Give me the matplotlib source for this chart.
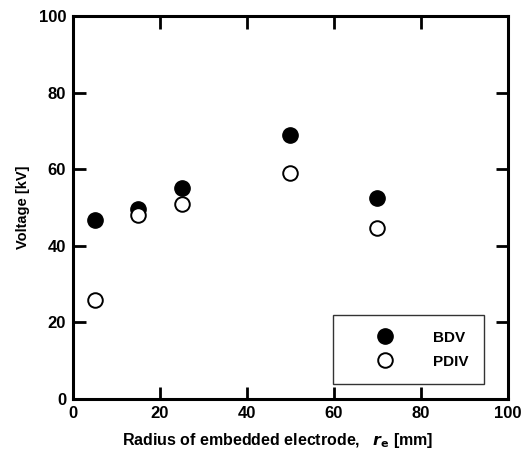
import matplotlib.pyplot as plt

# radius of embedded electrode [mm]
radius = [5, 15, 25, 50, 70]
bdv = [46.7, 49.5, 55.1, 68.9, 52.6]
pdiv = [25.7, 48.1, 50.9, 59.1, 44.7]

x_ticks = [0, 20, 40, 60, 80, 100]
y_ticks = [0, 20, 40, 60, 80, 100]

plt.rcParams["font.family"] = ["Liberation Sans", "DejaVu Sans"]
plt.rcParams["font.weight"] = "bold"

fig = plt.figure(figsize=(5.22, 4.59), dpi=100)
ax = fig.add_axes([0.140, 0.131, 0.833, 0.834])

ax.plot(radius, bdv, "o", color="black", markersize=11, label="BDV")
ax.plot(radius, pdiv, "o", markerfacecolor="white", markeredgecolor="black",
        markeredgewidth=1.4, markersize=10.5, label="PDIV")

ax.set_xlim(0, 100)
ax.set_ylim(0, 100)
ax.set_xticks(x_ticks)
ax.set_yticks(y_ticks)
ax.tick_params(direction="in", length=9, width=2, labelsize=12,
               top=True, right=True, pad=5)
for lbl in ax.get_xticklabels() + ax.get_yticklabels():
    lbl.set_fontweight("bold")
for sp in ax.spines.values():
    sp.set_linewidth(2.2)

ax.set_xlabel(r"Radius of embedded electrode,   $\mathit{r}_{\mathbf{e}}$ [mm]",
              fontsize=11.5, fontweight="bold")
ax.xaxis.set_label_coords(0.47, -0.085)
ax.set_ylabel("Voltage [kV]", fontsize=10.5, fontweight="bold", labelpad=6)

leg = ax.legend(loc="lower right", bbox_to_anchor=(0.945, 0.039),
                frameon=True, fancybox=False, edgecolor="black",
                prop={"weight": "bold", "size": 11},
                borderpad=1.0, labelspacing=0.65, handletextpad=0.75,
                handlelength=4.8, borderaxespad=0)
leg.get_frame().set_linewidth(1.0)

fig.savefig("out.png", dpi=100)
